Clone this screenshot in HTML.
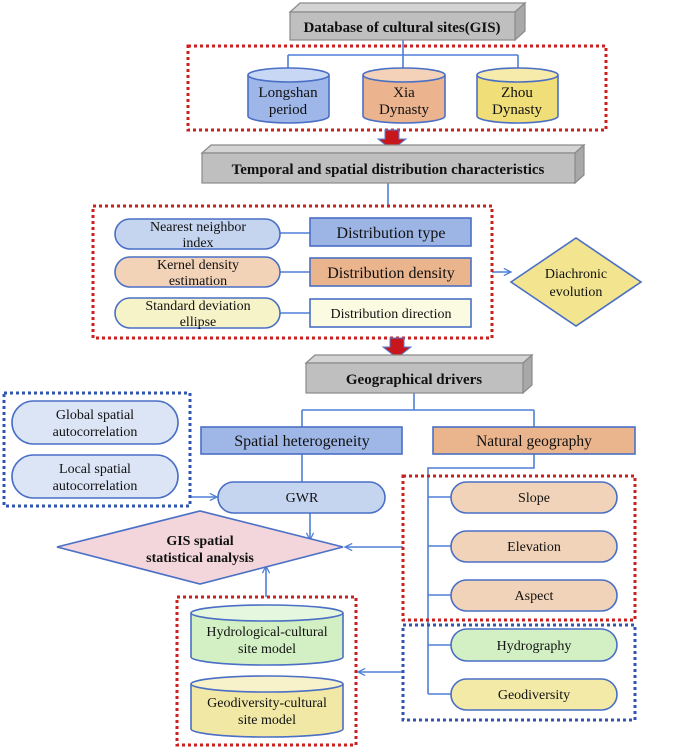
<!DOCTYPE html>
<html><head><meta charset="utf-8"><style>
html,body{margin:0;padding:0;background:#fff}
svg{display:block}
text{font-family:"Liberation Serif",serif;fill:#111}
</style></head><body>
<svg width="685" height="751" viewBox="0 0 685 751" xmlns="http://www.w3.org/2000/svg">
<defs>
<marker id="ar" viewBox="0 0 10 10" refX="9" refY="5" markerWidth="9" markerHeight="9" orient="auto" markerUnits="userSpaceOnUse"><path d="M1,1 L9,5 L1,9" fill="none" stroke="#4f7fd6" stroke-width="1.4"/></marker>
</defs>
<g stroke="#4f7fd6" stroke-width="1.6" fill="none">
<path d="M403,40 V55 M288,55 H518 M288,55 V70 M403,55 V70 M518,55 V70"/>
<path d="M388,183 V206"/>
<path d="M280,233 H310 M280,272 H310 M280,313 H310"/>
<path d="M492,272 H511" marker-end="url(#ar)"/>
<path d="M414,393 V410 M302,410 H534 M302,410 V427 M534,410 V427"/>
<path d="M302,454 V482"/>
<path d="M534,454 V468 H428 V694 M428,497 H451 M428,546 H451 M428,595 H451 M428,645 H451 M428,694 H451"/>
<path d="M190,497 H217" marker-end="url(#ar)"/>
<path d="M310,513 V540" marker-end="url(#ar)"/>
<path d="M403,547 H345" marker-end="url(#ar)"/>
<path d="M266,597 V566" marker-end="url(#ar)"/>
<path d="M403,672 H358" marker-end="url(#ar)"/>
</g>

<g stroke="#8a8a8a" stroke-width="1.2">
<polygon points="290,12 300,3 525,3 515,12" fill="#d4d4d4"/>
<polygon points="515,12 525,3 525,31 515,40" fill="#a8a8a8"/>
<rect x="290" y="12" width="225" height="28" fill="#bfbfbf"/>
</g>
<text x="402" y="32" font-size="15" font-weight="bold" text-anchor="middle">Database of cultural sites(GIS)</text>

<rect x="188" y="46" width="418" height="84" fill="none" stroke="#cc1f1f" stroke-width="3" stroke-dasharray="3,3"/>

<g stroke="#4a6fc5" stroke-width="1.6">
<path d="M248,75 V116 A40.5,7 0 0 0 329,116 V75" fill="#9eb7e8"/>
<ellipse cx="288.5" cy="75" rx="40.5" ry="7" fill="#c8d7f3"/>
<path d="M363,75 V116 A41,7 0 0 0 445,116 V75" fill="#ebb48e"/>
<ellipse cx="404" cy="75" rx="41" ry="7" fill="#f3d2b9"/>
<path d="M477,75 V116 A40.5,7 0 0 0 558,116 V75" fill="#f0df79"/>
<ellipse cx="517.5" cy="75" rx="40.5" ry="7" fill="#f6ebaa"/>
</g>
<g font-size="15" text-anchor="middle">
<text x="288" y="97">Longshan</text><text x="288" y="114">period</text>
<text x="404" y="97">Xia</text><text x="404" y="114">Dynasty</text>
<text x="517" y="97">Zhou</text><text x="517" y="114">Dynasty</text>
</g>

<polygon points="385,130 399,130 399,139 406,139 392,150 378,139 385,139" fill="#c8161d" stroke="#4f7fd6" stroke-width="1"/>

<g stroke="#8a8a8a" stroke-width="1.2">
<polygon points="202,153 211,145 584,145 575,153" fill="#d4d4d4"/>
<polygon points="575,153 584,145 584,175 575,183" fill="#a8a8a8"/>
<rect x="202" y="153" width="373" height="30" fill="#bfbfbf"/>
</g>
<text x="388" y="174" font-size="15" font-weight="bold" text-anchor="middle">Temporal and spatial distribution characteristics</text>

<rect x="93" y="206" width="399" height="132" fill="none" stroke="#cc1f1f" stroke-width="3" stroke-dasharray="3,3"/>
<g stroke="#4a6fc5" stroke-width="1.6">
<rect x="115" y="219" width="165" height="30" rx="15" fill="#c5d5f0"/>
<rect x="115" y="257" width="165" height="30" rx="15" fill="#f2d3b8"/>
<rect x="115" y="298" width="165" height="30" rx="15" fill="#f7f3c9"/>
<rect x="310" y="218" width="161" height="28" fill="#9db5e5"/>
<rect x="310" y="258" width="161" height="28" fill="#eab48d"/>
<rect x="310" y="299" width="161" height="28" fill="#fafbe0"/>
</g>
<g font-size="14" text-anchor="middle">
<text x="198" y="231">Nearest neighbor</text><text x="198" y="247">index</text>
<text x="198" y="269">Kernel density</text><text x="198" y="285">estimation</text>
<text x="198" y="310">Standard deviation</text><text x="198" y="326">ellipse</text>
</g>
<text x="391" y="238" font-size="16" text-anchor="middle">Distribution type</text>
<text x="391" y="278" font-size="16" text-anchor="middle">Distribution density</text>
<text x="391" y="318" font-size="14" text-anchor="middle">Distribution direction</text>

<polygon points="511,282 576,238 641,282 576,326" fill="#f3e58f" stroke="#4a6fc5" stroke-width="1.6"/>
<text x="576" y="278" font-size="14" text-anchor="middle">Diachronic</text>
<text x="576" y="296" font-size="14" text-anchor="middle">evolution</text>

<polygon points="390,338 404,338 404,347 411,347 397,358 383,347 390,347" fill="#c8161d" stroke="#4f7fd6" stroke-width="1"/>

<g stroke="#8a8a8a" stroke-width="1.2">
<polygon points="306,363 315,355 532,355 523,363" fill="#d4d4d4"/>
<polygon points="523,363 532,355 532,385 523,393" fill="#a8a8a8"/>
<rect x="306" y="363" width="217" height="30" fill="#bfbfbf"/>
</g>
<text x="414" y="384" font-size="15" font-weight="bold" text-anchor="middle">Geographical drivers</text>

<g stroke="#4a6fc5" stroke-width="1.6">
<rect x="201" y="427" width="201" height="27" fill="#9fb7e6"/>
<rect x="433" y="427" width="202" height="27" fill="#eab48d"/>
</g>
<text x="302" y="446" font-size="16" text-anchor="middle">Spatial heterogeneity</text>
<text x="534" y="446" font-size="15.5" text-anchor="middle">Natural geography</text>

<rect x="4" y="393" width="186" height="113" fill="none" stroke="#2f55b0" stroke-width="3" stroke-dasharray="3,3"/>
<g stroke="#4a6fc5" stroke-width="1.6" fill="#dbe5f6">
<rect x="12" y="401" width="166" height="43" rx="21.5"/>
<rect x="12" y="455" width="166" height="43" rx="21.5"/>
<rect x="218" y="482" width="167" height="31" rx="15.5" fill="#c5d5f0"/>
</g>
<g font-size="14" text-anchor="middle">
<text x="95" y="419">Global spatial</text><text x="95" y="436">autocorrelation</text>
<text x="95" y="473">Local spatial</text><text x="95" y="490">autocorrelation</text>
<text x="302" y="502">GWR</text>
</g>

<polygon points="57,547 200,511 343,547 200,584" fill="#f2d6dc" stroke="#4a6fc5" stroke-width="1.6"/>
<text x="200" y="545" font-size="14" font-weight="bold" text-anchor="middle">GIS spatial</text>
<text x="200" y="562" font-size="14" font-weight="bold" text-anchor="middle">statistical analysis</text>

<rect x="403" y="476" width="232" height="144" fill="none" stroke="#cc1f1f" stroke-width="3" stroke-dasharray="3,3"/>
<rect x="403" y="625" width="232" height="95" fill="none" stroke="#2f55b0" stroke-width="3" stroke-dasharray="3,3"/>
<g stroke="#4a6fc5" stroke-width="1.6">
<rect x="451" y="482" width="166" height="31" rx="15.5" fill="#f0d3b8"/>
<rect x="451" y="531" width="166" height="31" rx="15.5" fill="#f0d3b8"/>
<rect x="451" y="580" width="166" height="31" rx="15.5" fill="#f0d3b8"/>
<rect x="451" y="629" width="166" height="32" rx="16" fill="#d3f0c4"/>
<rect x="451" y="679" width="166" height="31" rx="15.5" fill="#f3eaa8"/>
</g>
<g font-size="14" text-anchor="middle">
<text x="534" y="502">Slope</text>
<text x="534" y="551">Elevation</text>
<text x="534" y="600">Aspect</text>
<text x="534" y="650">Hydrography</text>
<text x="534" y="699">Geodiversity</text>
</g>

<rect x="177" y="597" width="179" height="148" fill="none" stroke="#cc1f1f" stroke-width="3" stroke-dasharray="3,3"/>
<g stroke="#4a6fc5" stroke-width="1.6">
<path d="M191,613 V657 A76,8 0 0 0 343,657 V613" fill="#d3f0c4"/>
<ellipse cx="267" cy="613" rx="76" ry="8" fill="#e6f7df"/>
<path d="M191,684 V729 A76,8 0 0 0 343,729 V684" fill="#f1e8a6"/>
<ellipse cx="267" cy="684" rx="76" ry="8" fill="#f7f2c9"/>
</g>
<g font-size="14" text-anchor="middle">
<text x="267" y="636">Hydrological-cultural</text><text x="267" y="653">site model</text>
<text x="267" y="707">Geodiversity-cultural</text><text x="267" y="724">site model</text>
</g>
</svg>
</body></html>
